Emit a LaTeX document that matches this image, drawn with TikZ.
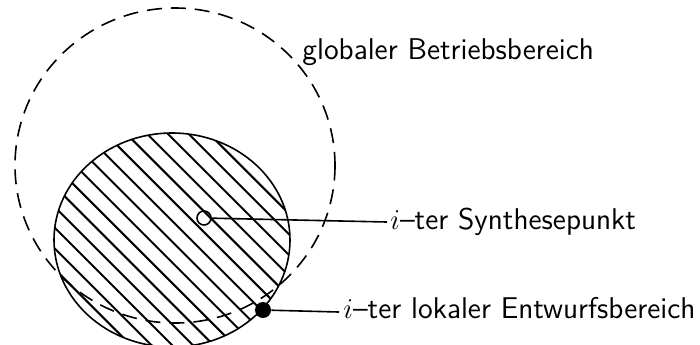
\documentclass[tikz,border=0pt]{standalone}
\begin{document}
\begin{tikzpicture}[x=0.5pt,y=-0.5pt,
  lbl/.style={font=\sffamily\fontsize{15}{18}\selectfont, inner sep=0pt, anchor=base west},
  hatch/.style={line width=1pt},
  outline/.style={line width=0.8pt},
  glob/.style={line width=0.8pt, dash pattern=on 7.5pt off 4.5pt},
  conn/.style={line width=0.8pt}]
\useasboundingbox (0,0) rectangle (700,344);
% hatched local region
\coordinate (hc) at (172,240);
\begin{scope}
  \clip (hc) ellipse [x radius=118, y radius=107];
  \foreach \k in {-7,...,17} {
    \draw[hatch] ({-173+20.7*\k+100},100) -- ({-173+20.7*\k+400},400);
  }
\end{scope}
\draw[outline] (hc) ellipse [x radius=118, y radius=107];
% global dashed region
\coordinate (gc) at (175,165.5);
\draw[glob] (gc) ellipse [x radius=160, y radius=157.5];
% synthesis point and local design region point
\node[draw, circle, line width=0.8pt, minimum size=7pt, inner sep=0pt] (sp) at (204,218) {};
\node[fill, circle, minimum size=8pt, inner sep=0pt] (ld) at (263,310) {};
% labels
\node[lbl] (gl) at (302,59) {globaler Betriebsbereich};
\node[lbl] (sl) at (390,229) {$i$--ter Synthesepunkt};
\node[lbl] (ll) at (343,318) {$i$--ter lokaler Entwurfsbereich};
\coordinate (se) at (387,222);
\coordinate (le) at (339,312);
\draw[conn] (sp) -- (se);
\draw[conn] (ld) -- (le);
\end{tikzpicture}
\end{document}
